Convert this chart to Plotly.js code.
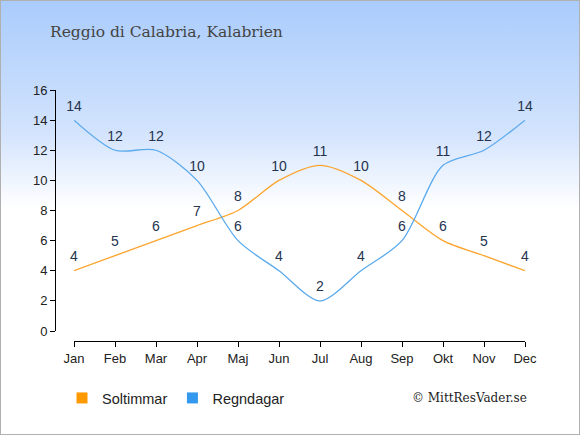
<!DOCTYPE html>
<html><head><meta charset="utf-8">
<script src="https://cdn.plot.ly/plotly-3.0.1.min.js"></script>
<style>
html,body{margin:0;padding:0;}
#wrap{width:578px;height:433px;border:1px solid #b0b0b0;background:linear-gradient(to bottom,#aaccfc 0%,#d2e3fd 30%,#ffffff 48%,#ffffff 100%);position:relative;}
#chart{position:absolute;left:-1px;top:-1px;width:580px;height:435px;}
</style></head>
<body><div id="wrap"><div id="chart"></div></div>
<script>
const months = ["Jan","Feb","Mar","Apr","Maj","Jun","Jul","Aug","Sep","Okt","Nov","Dec"];
const soltimmar = [4,5,6,7,8,10,11,10,8,6,5,4];
const regndagar = [14,12,12,10,6,4,2,4,6,11,12,14];
const seriesNames = ["Soltimmar","Regndagar"];
const colors = ["#fba52e","#5aaaee"];
const legendColors = ["#ff9900","#3399ee"];

const labelFont = {family:"Liberation Sans, Arial, sans-serif", size:14, color:"#25334f"};
const hiddenMarker = {size:8, opacity:0};
const traces = [
  {x:months, y:soltimmar, name:seriesNames[0], mode:"lines+markers+text", marker:hiddenMarker, text:soltimmar.map(String), textposition:"top center", textfont:labelFont, line:{color:colors[0], width:1.3, shape:"spline", smoothing:0.8}, showlegend:false, hoverinfo:"skip", cliponaxis:false},
  {x:months, y:regndagar, name:seriesNames[1], mode:"lines+markers+text", marker:hiddenMarker, text:regndagar.map(String), textposition:"top center", textfont:labelFont, line:{color:colors[1], width:1.3, shape:"spline", smoothing:0.8}, showlegend:false, hoverinfo:"skip", cliponaxis:false},
  {x:[null], y:[null], name:seriesNames[0], mode:"markers", marker:{symbol:"square", size:11, color:legendColors[0]}, hoverinfo:"skip"},
  {x:[null], y:[null], name:seriesNames[1], mode:"markers", marker:{symbol:"square", size:11, color:legendColors[1]}, hoverinfo:"skip"}
];
const L=40, R=55, T=90, B=94, W=580, H=435;
const pw = W-L-R, ph = H-T-B;
const layout = {
  width:W, height:H,
  margin:{l:L, r:R, t:T, b:B, pad:0},
  paper_bgcolor:"rgba(0,0,0,0)", plot_bgcolor:"rgba(0,0,0,0)",
  title:{text:"Reggio di Calabria, Kalabrien", x:50/W, xanchor:"left", y:1-32/H, yanchor:"middle", font:{family:"DejaVu Serif, serif", size:15.5, color:"#444444"}},
  xaxis:{domain:[(74-L)/pw,1], range:[0,11], anchor:"free", position:0, showgrid:false, zeroline:false, showline:true, linecolor:"#000", linewidth:1, ticks:"outside", ticklen:5, tickcolor:"#000", tickfont:{family:"Liberation Sans, Arial, sans-serif", size:13, color:"#222"}, fixedrange:true, type:"category"},
  yaxis:{domain:[(341-331)/ph,1], range:[0,16], dtick:2, anchor:"free", position:(55-L)/pw, showgrid:false, zeroline:false, showline:true, linecolor:"#000", linewidth:1, ticks:"outside", ticklen:5, tickcolor:"#000", tickfont:{family:"Liberation Sans, Arial, sans-serif", size:13, color:"#222"}, fixedrange:true},
  showlegend:true,
  legend:{orientation:"h", x:(62-L)/pw, xanchor:"left", y:(341-398)/ph, yanchor:"middle", font:{family:"Liberation Sans, Arial, sans-serif", size:14.5, color:"#222"}, bgcolor:"rgba(0,0,0,0)", itemclick:false},
  annotations:[{text:"© MittResVader.se", xref:"paper", yref:"paper", x:(529-L)/pw, y:(341-398)/ph, xanchor:"right", yanchor:"middle", showarrow:false, font:{family:"DejaVu Serif, serif", size:12, color:"#222"}}]
};
Plotly.newPlot("chart", traces, layout, {displayModeBar:false, staticPlot:true});
</script></body></html>
